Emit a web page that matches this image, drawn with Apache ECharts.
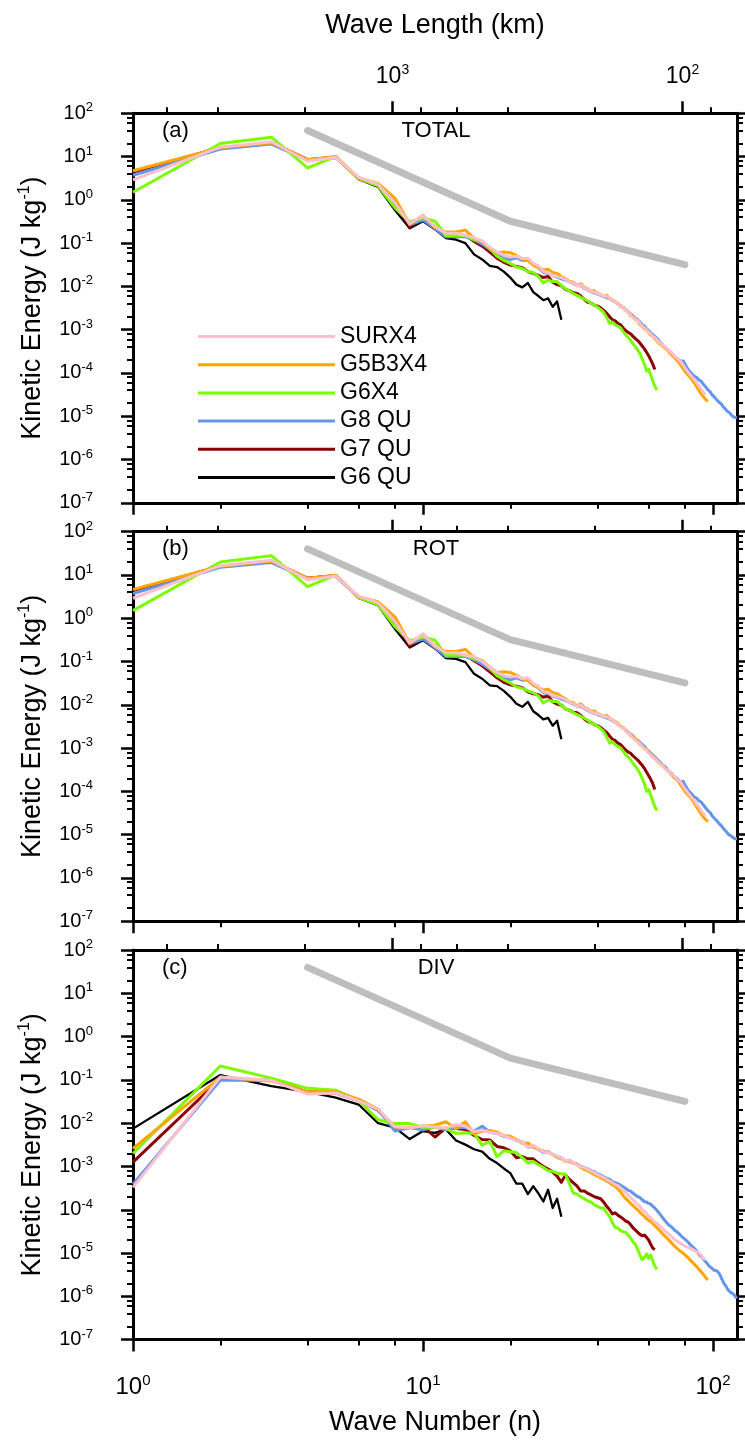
<!DOCTYPE html>
<html>
<head>
<meta charset="utf-8">
<script src="https://cdn.jsdelivr.net/npm/echarts@6/dist/echarts.min.js"></script>
<style>
  html, body { margin: 0; padding: 0; background: #fff; }
  #chart { width: 745px; height: 1443px; }
</style>
</head>
<body>
<div id="chart"></div>
<script>
// ---------------------------------------------------------------------------
// Kinetic energy spectra (TOTAL / ROT / DIV) versus spherical wave number
// ---------------------------------------------------------------------------

const seriesNames  = ['SURX4', 'G5B3X4', 'G6X4', 'G8 QU', 'G7 QU', 'G6 QU'];
const seriesColors = ['#ffc0cb', '#ffa500', '#7cfc00', '#6495ed', '#8b0000', '#000000'];
const panelTags    = ['(a)', '(b)', '(c)'];
const panelTitles  = ['TOTAL', 'ROT', 'DIV'];

// Axis tick positions
const xMajorTicks = [1, 10, 100];
const xMinorTicks = [2, 4, 6, 8, 20, 40, 60, 80];
const yMajorTicks = [1e2, 1e1, 1e0, 1e-1, 1e-2, 1e-3, 1e-4, 1e-5, 1e-6, 1e-7];
const yMinorTicks = [80, 60, 40, 20, 8, 6, 4, 2, 0.8, 0.6, 0.4, 0.2,
  0.08, 0.06, 0.04, 0.02, 8e-3, 6e-3, 4e-3, 2e-3, 8e-4, 6e-4, 4e-4, 2e-4,
  8e-5, 6e-5, 4e-5, 2e-5, 8e-6, 6e-6, 4e-6, 2e-6, 8e-7, 6e-7, 4e-7, 2e-7];
const waveLengthMajor = [1000, 100];                       // km
const waveLengthMinor = [6000, 4000, 2000, 800, 600, 400, 200, 80];
const KM_PER_WAVE = 7850;                                  // wave length (km) = KM_PER_WAVE / n

// Reference slopes (n^-3 then n^-5/3)
const refN = [4, 20, 80];
const refE = [40, 0.32, 0.032];

// ---------------- (a) TOTAL, values for n = 1, 2, 3, ... ----------------
const SURX4_TOTAL = [2.9, 16.5, 22, 7.8, 9.6, 3.3, 2.3, 0.85, 0.28, 0.43,
  0.24, 0.17, 0.17, 0.15, 0.135, 0.11, 0.08, 0.062, 0.052, 0.048,
  0.05, 0.044, 0.045, 0.034, 0.03, 0.022, 0.021, 0.018, 0.017, 0.016,
  0.0145, 0.0125, 0.012, 0.0102, 0.0108, 0.0092, 0.0086, 0.0076, 0.0074, 0.0068,
  0.0064, 0.006, 0.0059, 0.0053, 0.005, 0.0044, 0.0039, 0.0035, 0.0032, 0.0028,
  0.0025, 0.0022, 0.0019, 0.0017, 0.0016, 0.0014, 0.0012, 0.0011, 0.00098, 0.00088,
  0.0008, 0.0007, 0.00066, 0.00058, 0.00052, 0.00048, 0.00044, 0.0004, 0.00039, 0.00034,
  0.00031, 0.00029, 0.00026, 0.00025, 0.00022, 0.00021, 0.00019, 0.00017, 0.00015, 0.00013,
  0.00012, 1.05e-4, 9.7e-5, 8.6e-5, 8.0e-5, 7.1e-5, 6.6e-5, 5.8e-5, 5.3e-5, 4.7e-5,
  4.3e-5, 3.8e-5, 3.4e-5, 3.1e-5];
const G5B3X4_TOTAL = [4.7, 16, 21, 8.5, 10, 3.2, 2.4, 1.1, 0.27, 0.44,
  0.23, 0.18, 0.18, 0.2, 0.13, 0.11, 0.078, 0.06, 0.062, 0.06,
  0.052, 0.043, 0.04, 0.031, 0.027, 0.024, 0.025, 0.021, 0.02, 0.017,
  0.015, 0.013, 0.0125, 0.0105, 0.0115, 0.0095, 0.0088, 0.0078, 0.0079, 0.0068,
  0.0065, 0.0058, 0.0062, 0.0053, 0.0049, 0.0045, 0.004, 0.0034, 0.0033, 0.0028,
  0.0025, 0.0021, 0.002, 0.0017, 0.0016, 0.0013, 0.0012, 0.00105, 0.001, 0.00085,
  0.00075, 0.0007, 0.00062, 0.00058, 0.00049, 0.00046, 0.00042, 0.00038, 0.00036, 0.00032,
  0.0003, 0.00026, 0.00025, 0.00022, 0.0002, 0.00018, 0.00017, 0.00014, 0.00013, 0.00011,
  1.0e-4, 9.0e-5, 8.5e-5, 7.5e-5, 6.8e-5, 6.0e-5, 5.5e-5, 4.7e-5, 4.4e-5, 3.7e-5,
  3.4e-5, 3.0e-5, 2.8e-5, 2.5e-5, 2.4e-5, 2.2e-5];
const G6X4_TOTAL = [1.5, 20, 28, 5.5, 10, 3.1, 2.1, 0.65, 0.31, 0.38,
  0.32, 0.15, 0.15, 0.15, 0.12, 0.11, 0.075, 0.05, 0.04, 0.034,
  0.028, 0.026, 0.022, 0.021, 0.017, 0.012, 0.014, 0.013, 0.013, 0.0105,
  0.0088, 0.0078, 0.0068, 0.0062, 0.0056, 0.0051, 0.0046, 0.004, 0.0037, 0.0033,
  0.0029, 0.0025, 0.0019, 0.0014, 0.0015, 0.0013, 0.0012, 0.0011, 0.0009, 0.00075,
  0.00066, 0.00057, 0.00047, 0.0004, 0.00034, 0.00028, 0.00021, 0.00016, 0.00011, 0.00012,
  9.0e-5, 6.5e-5, 5.0e-5, 4.0e-5];
const G8QU_TOTAL = [3.7, 15, 19.5, 8.3, 9.4, 3.2, 2.2, 0.9, 0.27, 0.34,
  0.22, 0.14, 0.14, 0.14, 0.12, 0.095, 0.072, 0.055, 0.046, 0.042,
  0.046, 0.04, 0.041, 0.032, 0.027, 0.021, 0.02, 0.018, 0.0165, 0.015,
  0.014, 0.0128, 0.0115, 0.0105, 0.0103, 0.009, 0.0083, 0.0075, 0.0071, 0.0066,
  0.0062, 0.0058, 0.0055, 0.0052, 0.0048, 0.0044, 0.0039, 0.0036, 0.0032, 0.0029,
  0.0026, 0.0023, 0.0021, 0.0018, 0.0017, 0.0015, 0.0013, 0.0012, 0.00105, 0.00095,
  0.00085, 0.00077, 0.0007, 0.00063, 0.00056, 0.0005, 0.00046, 0.00041, 0.00039, 0.00034,
  0.00031, 0.00029, 0.00026, 0.00024, 0.00022, 0.0002, 0.00019, 0.00018, 0.00019, 0.00016,
  0.00014, 0.00012, 0.00011, 1.0e-4, 9.5e-5, 8.5e-5, 9.0e-5, 7.8e-5, 7.0e-5, 7.2e-5,
  6.5e-5, 5.8e-5, 5.4e-5, 4.9e-5, 4.6e-5, 4.1e-5, 3.8e-5, 3.6e-5, 3.2e-5, 3.0e-5,
  2.8e-5, 2.6e-5, 2.4e-5, 2.3e-5, 2.1e-5, 2.0e-5, 1.9e-5, 1.7e-5, 1.6e-5, 1.5e-5,
  1.4e-5, 1.3e-5, 1.2e-5, 1.2e-5, 1.1e-5, 1.05e-5, 1.0e-5, 9.5e-6, 9.3e-6, 9.3e-6, 9.2e-6];
const G7QU_TOTAL = [4.4, 16, 21, 8.5, 9.8, 3.1, 2.2, 0.8, 0.24, 0.36,
  0.22, 0.15, 0.14, 0.15, 0.11, 0.085, 0.062, 0.045, 0.036, 0.031,
  0.029, 0.027, 0.022, 0.02, 0.018, 0.016, 0.017, 0.0125, 0.011, 0.0103,
  0.0086, 0.0079, 0.0071, 0.0069, 0.006, 0.005, 0.0043, 0.0041, 0.0037, 0.0035,
  0.0032, 0.0028, 0.0024, 0.002, 0.0017, 0.0016, 0.0014, 0.0013, 0.0011, 0.00095,
  0.00086, 0.0008, 0.0007, 0.00062, 0.00056, 0.00049, 0.00042, 0.00036, 0.0003, 0.00025,
  0.0002, 0.00016, 0.00012];
const G6QU_TOTAL = [4.4, 16, 21, 8.5, 9.8, 3.0, 2.0, 0.58, 0.22, 0.32,
  0.21, 0.13, 0.12, 0.1, 0.055, 0.042, 0.03, 0.028, 0.022, 0.016,
  0.011, 0.0095, 0.012, 0.0074, 0.006, 0.0048, 0.0053, 0.0034, 0.0045, 0.0017];

// ---------------- (b) ROT ----------------
const SURX4_ROT = [2.9, 16.4, 22, 7.7, 9.5, 3.2, 2.3, 0.84, 0.27, 0.42,
  0.23, 0.16, 0.16, 0.14, 0.13, 0.1, 0.074, 0.056, 0.047, 0.044,
  0.046, 0.04, 0.042, 0.031, 0.027, 0.02, 0.019, 0.0165, 0.0155, 0.0145,
  0.0132, 0.0112, 0.0108, 0.0092, 0.0098, 0.0083, 0.0078, 0.0068, 0.0066, 0.0061,
  0.0058, 0.0054, 0.0053, 0.0048, 0.0045, 0.004, 0.0035, 0.0031, 0.0029, 0.0025,
  0.0022, 0.002, 0.0017, 0.0015, 0.0014, 0.00125, 0.0011, 0.00098, 0.00088, 0.00078,
  0.0007, 0.00063, 0.00058, 0.00052, 0.00046, 0.00043, 0.00039, 0.00035, 0.00034, 0.0003,
  0.00027, 0.00025, 0.00023, 0.00022, 0.00019, 0.00018, 0.00017, 0.00015, 0.00013, 1.15e-4,
  1.05e-4, 9.2e-5, 8.5e-5, 7.5e-5, 7.0e-5, 6.2e-5, 5.7e-5, 5.0e-5, 4.6e-5, 4.1e-5,
  3.7e-5, 3.3e-5, 3.0e-5, 2.7e-5];
const G5B3X4_ROT = [4.6, 16, 21, 8.4, 9.9, 3.1, 2.4, 1.08, 0.26, 0.43,
  0.22, 0.17, 0.17, 0.19, 0.125, 0.105, 0.074, 0.056, 0.058, 0.056,
  0.048, 0.04, 0.037, 0.028, 0.025, 0.022, 0.023, 0.019, 0.018, 0.0155,
  0.0137, 0.0117, 0.0113, 0.0094, 0.0105, 0.0086, 0.008, 0.0071, 0.0072, 0.0062,
  0.0059, 0.0053, 0.0057, 0.0049, 0.0045, 0.0041, 0.0037, 0.0031, 0.003, 0.0026,
  0.0023, 0.0019, 0.0019, 0.0016, 0.0015, 0.0012, 0.0011, 0.00098, 0.00094, 0.0008,
  0.0007, 0.00065, 0.00058, 0.00054, 0.00046, 0.00043, 0.00039, 0.00035, 0.00034, 0.0003,
  0.00028, 0.00024, 0.00023, 0.0002, 0.00019, 0.00017, 0.00016, 0.00013, 0.00012, 1.0e-4,
  9.3e-5, 8.3e-5, 7.8e-5, 7.0e-5, 6.2e-5, 5.5e-5, 5.0e-5, 4.3e-5, 4.0e-5, 3.4e-5,
  3.1e-5, 2.7e-5, 2.5e-5, 2.3e-5, 2.2e-5, 2.0e-5];
const G6X4_ROT = [1.5, 20, 28, 5.4, 9.9, 3.0, 2.05, 0.64, 0.3, 0.37,
  0.31, 0.14, 0.14, 0.14, 0.115, 0.104, 0.071, 0.047, 0.038, 0.032,
  0.026, 0.024, 0.021, 0.019, 0.016, 0.011, 0.013, 0.012, 0.012, 0.0097,
  0.0081, 0.0074, 0.0066, 0.0059, 0.0054, 0.0049, 0.0044, 0.0038, 0.0036, 0.0032,
  0.0028, 0.0024, 0.0018, 0.0013, 0.0014, 0.0012, 0.0011, 0.001, 0.00085, 0.0007,
  0.00062, 0.00054, 0.00044, 0.00038, 0.00032, 0.00026, 0.0002, 0.00015, 0.0001, 0.00011,
  8.2e-5, 6.0e-5, 4.5e-5, 3.6e-5];
const G8QU_ROT = [3.7, 15, 19.4, 8.2, 9.3, 3.1, 2.2, 0.89, 0.26, 0.33,
  0.21, 0.13, 0.13, 0.13, 0.11, 0.087, 0.066, 0.05, 0.042, 0.038,
  0.042, 0.037, 0.038, 0.029, 0.025, 0.019, 0.018, 0.016, 0.015, 0.0135,
  0.0127, 0.0114, 0.0103, 0.0094, 0.0093, 0.0081, 0.0074, 0.0067, 0.0064, 0.0059,
  0.0056, 0.0052, 0.005, 0.0047, 0.0043, 0.004, 0.0035, 0.0032, 0.0029, 0.0026,
  0.0023, 0.0021, 0.0019, 0.0016, 0.0015, 0.00135, 0.0012, 0.0011, 0.00094, 0.00085,
  0.00076, 0.00069, 0.00063, 0.00056, 0.0005, 0.00045, 0.00041, 0.00037, 0.00035, 0.0003,
  0.00028, 0.00026, 0.00023, 0.00021, 0.0002, 0.00018, 0.00017, 0.00016, 0.00017, 0.00014,
  1.25e-4, 1.05e-4, 9.7e-5, 9.0e-5, 8.4e-5, 7.5e-5, 8.0e-5, 6.9e-5, 6.2e-5, 6.4e-5,
  5.7e-5, 5.1e-5, 4.8e-5, 4.3e-5, 4.1e-5, 3.6e-5, 3.4e-5, 3.2e-5, 2.8e-5, 2.6e-5,
  2.4e-5, 2.2e-5, 2.1e-5, 2.0e-5, 1.8e-5, 1.7e-5, 1.6e-5, 1.45e-5, 1.35e-5, 1.28e-5,
  1.18e-5, 1.1e-5, 1.02e-5, 1.0e-5, 9.4e-6, 9.0e-6, 8.7e-6, 8.3e-6, 8.0e-6, 8.1e-6, 8.0e-6];
const G7QU_ROT = [4.4, 16, 21, 8.4, 9.7, 3.05, 2.15, 0.79, 0.23, 0.35,
  0.21, 0.14, 0.13, 0.14, 0.105, 0.08, 0.058, 0.042, 0.033, 0.029,
  0.027, 0.025, 0.02, 0.018, 0.017, 0.015, 0.016, 0.0118, 0.0104, 0.0098,
  0.0081, 0.0074, 0.0067, 0.0066, 0.0057, 0.0047, 0.0041, 0.0039, 0.0035, 0.0033,
  0.003, 0.0026, 0.0023, 0.0019, 0.0016, 0.0015, 0.0013, 0.0012, 0.00104, 0.0009,
  0.00081, 0.00076, 0.00066, 0.00059, 0.00053, 0.00046, 0.0004, 0.00034, 0.00028, 0.00023,
  0.00019, 0.00015, 0.00011];
const G6QU_ROT = [4.4, 16, 21, 8.4, 9.7, 2.95, 1.98, 0.57, 0.21, 0.31,
  0.2, 0.12, 0.115, 0.097, 0.052, 0.04, 0.028, 0.027, 0.021, 0.0153,
  0.0106, 0.009, 0.0117, 0.0071, 0.0058, 0.0046, 0.005, 0.0033, 0.0043, 0.0016];

// ---------------- (c) DIV ----------------
const SURX4_DIV = [3.3e-4, 0.117, 0.098, 0.047, 0.05, 0.033, 0.021, 0.0082, 0.0079, 0.0087,
  0.0082, 0.0078, 0.0093, 0.0085, 0.0064, 0.0068, 0.0062, 0.0058, 0.0052, 0.0045,
  0.004, 0.0036, 0.0028, 0.0031, 0.0026, 0.0022, 0.0021, 0.0019, 0.0017, 0.0016,
  0.0013, 0.0014, 0.0012, 0.0011, 0.00098, 0.00093, 0.00087, 0.00078, 0.00072, 0.00065,
  0.0006, 0.00056, 0.0005, 0.00046, 0.00042, 0.00038, 0.00036, 0.00032, 0.00028, 0.00025,
  0.00022, 0.00019, 0.00017, 0.00015, 0.00013, 0.00012, 1.0e-4, 9.2e-5, 8.2e-5, 7.0e-5,
  6.5e-5, 5.8e-5, 5.2e-5, 4.8e-5, 4.4e-5, 4.0e-5, 3.7e-5, 3.3e-5, 3.0e-5, 2.8e-5,
  2.6e-5, 2.4e-5, 2.2e-5, 2.0e-5, 1.9e-5, 1.8e-5, 1.7e-5, 1.6e-5, 1.5e-5, 1.45e-5,
  1.4e-5, 1.35e-5, 1.3e-5, 1.25e-5, 1.2e-5, 1.15e-5, 1.1e-5, 1.05e-5, 1.0e-5, 9.7e-6,
  8.8e-6, 8.0e-6, 7.4e-6, 6.9e-6];
const G5B3X4_DIV = [2.6e-3, 0.115, 0.095, 0.053, 0.053, 0.036, 0.021, 0.0082, 0.0079, 0.0085,
  0.009, 0.0108, 0.0074, 0.0108, 0.0057, 0.0065, 0.0068, 0.0062, 0.0052, 0.005,
  0.0042, 0.0034, 0.0035, 0.0028, 0.0025, 0.0023, 0.0021, 0.0019, 0.0016, 0.0015,
  0.0013, 0.0013, 0.0012, 0.0011, 0.00095, 0.00085, 0.0008, 0.00072, 0.00065, 0.0006,
  0.00055, 0.0005, 0.00046, 0.00042, 0.00037, 0.00035, 0.0003, 0.00026, 0.00021, 0.00018,
  0.00016, 0.00014, 1.25e-4, 1.1e-4, 1.0e-4, 8.8e-5, 7.8e-5, 7.0e-5, 6.2e-5, 5.7e-5,
  5.4e-5, 4.8e-5, 4.3e-5, 3.9e-5, 3.5e-5, 3.2e-5, 2.8e-5, 2.6e-5, 2.3e-5, 2.1e-5,
  1.9e-5, 1.7e-5, 1.6e-5, 1.4e-5, 1.3e-5, 1.2e-5, 1.1e-5, 1.05e-5, 9.7e-6, 9.2e-6,
  8.5e-6, 7.8e-6, 7.2e-6, 6.6e-6, 6.0e-6, 5.6e-6, 5.2e-6, 4.8e-6, 4.4e-6, 4.0e-6,
  3.7e-6, 3.4e-6, 3.1e-6, 2.8e-6, 2.6e-6, 2.4e-6];
const G6X4_DIV = [2.0e-3, 0.21, 0.11, 0.064, 0.058, 0.034, 0.012, 0.0098, 0.0098, 0.008,
  0.0082, 0.0075, 0.0058, 0.006, 0.0058, 0.0031, 0.0038, 0.0017, 0.0023, 0.0022,
  0.0021, 0.0016, 0.0012, 0.0013, 0.0011, 0.00095, 0.0008, 0.00078, 0.0007, 0.00068,
  0.00066, 0.0004, 0.00024, 0.00023, 0.0002, 0.00018, 0.00016, 0.00015, 0.00013, 0.00012,
  0.00011, 0.00011, 8.5e-5, 7.0e-5, 5.0e-5, 3.9e-5, 3.8e-5, 3.3e-5, 3.1e-5, 3.0e-5,
  2.6e-5, 2.2e-5, 1.8e-5, 1.6e-5, 1.2e-5, 9.0e-6, 7.0e-6, 8.0e-6, 9.5e-6, 7.5e-6,
  9.0e-6, 6.5e-6, 5.0e-6, 4.2e-6];
const G8QU_DIV = [3.9e-4, 0.098, 0.098, 0.053, 0.05, 0.033, 0.021, 0.0066, 0.0079, 0.007,
  0.0082, 0.007, 0.0079, 0.0079, 0.0066, 0.0085, 0.0062, 0.0058, 0.005, 0.0046,
  0.004, 0.0037, 0.0028, 0.0029, 0.0025, 0.0021, 0.0022, 0.0019, 0.0017, 0.0016,
  0.0013, 0.0014, 0.0012, 0.00115, 0.001, 0.00094, 0.00088, 0.0008, 0.00075, 0.00068,
  0.00063, 0.00058, 0.00053, 0.0005, 0.00045, 0.00042, 0.0004, 0.00037, 0.00034, 0.00031,
  0.00028, 0.00027, 0.00024, 0.00022, 0.0002, 0.00019, 0.00017, 1.55e-4, 1.5e-4, 1.4e-4,
  1.35e-4, 1.2e-4, 1.1e-4, 9.8e-5, 9.0e-5, 7.5e-5, 6.6e-5, 5.8e-5, 5.2e-5, 4.6e-5,
  4.2e-5, 4.0e-5, 3.6e-5, 3.3e-5, 3.0e-5, 2.9e-5, 2.7e-5, 2.4e-5, 2.3e-5, 2.1e-5,
  2.0e-5, 1.8e-5, 1.7e-5, 1.5e-5, 1.4e-5, 1.3e-5, 1.2e-5, 1.1e-5, 9.8e-6, 8.8e-6,
  8.5e-6, 7.8e-6, 7.0e-6, 6.6e-6, 6.0e-6, 5.5e-6, 5.0e-6, 4.7e-6, 4.5e-6, 4.2e-6,
  4.0e-6, 4.1e-6, 3.9e-6, 4.0e-6, 3.4e-6, 3.0e-6, 2.6e-6, 2.3e-6, 2.0e-6, 1.9e-6,
  1.7e-6, 1.5e-6, 1.4e-6, 1.3e-6, 1.3e-6, 1.2e-6, 1.1e-6, 1.1e-6, 1.0e-6, 9.5e-7, 1.0e-6];
const G7QU_DIV = [1.26e-3, 0.105, 0.098, 0.053, 0.05, 0.033, 0.02, 0.0079, 0.0079, 0.0085,
  0.0048, 0.0078, 0.0075, 0.0072, 0.0052, 0.0042, 0.0041, 0.0029, 0.0027, 0.0023,
  0.0016, 0.0017, 0.0015, 0.0015, 0.0012, 0.001, 0.00087, 0.00075, 0.0006, 0.00043,
  0.00064, 0.0005, 0.00042, 0.00035, 0.00027, 0.00027, 0.00024, 0.00022, 0.0002, 0.00019,
  0.00018, 0.00015, 0.00012, 1.0e-4, 8.0e-5, 8.5e-5, 7.5e-5, 6.8e-5, 6.2e-5, 5.5e-5,
  5.2e-5, 4.5e-5, 3.8e-5, 3.4e-5, 3.0e-5, 2.7e-5, 2.5e-5, 2.6e-5, 2.3e-5, 2.0e-5,
  1.6e-5, 1.3e-5, 1.2e-5];
const G6QU_DIV = [7.5e-3, 0.13, 0.072, 0.053, 0.039, 0.027, 0.01, 0.0079, 0.0043, 0.0066,
  0.006, 0.0072, 0.004, 0.0032, 0.0025, 0.0022, 0.0015, 0.0012, 0.0009, 0.0007,
  0.0004, 0.0004, 0.00023, 0.00035, 0.00024, 0.000155, 0.00029, 0.00011, 0.00018, 6.9e-5];

const panelSeries = [
  [SURX4_TOTAL, G5B3X4_TOTAL, G6X4_TOTAL, G8QU_TOTAL, G7QU_TOTAL, G6QU_TOTAL],
  [SURX4_ROT,   G5B3X4_ROT,   G6X4_ROT,   G8QU_ROT,   G7QU_ROT,   G6QU_ROT],
  [SURX4_DIV,   G5B3X4_DIV,   G6X4_DIV,   G8QU_DIV,   G7QU_DIV,   G6QU_DIV]
];

// ---------------------------------------------------------------------------
// Layout and styling
// ---------------------------------------------------------------------------
const FONT = '"Liberation Sans", Arial, Helvetica, sans-serif';
const X_MIN = 0.99999, X_MAX = 121;
const Y_MIN = 0.99999e-7, Y_MAX = 100.0001;
const GRID_LEFT = 133, GRID_WIDTH = 604, GRID_HEIGHT = 389.5;
const GRID_TOPS = [113.3, 531.7, 950.1];
const lineWidths = [3, 3, 3, 3, 3, 2.3];
const drawOrder = [5, 4, 3, 2, 1, 0];   // pink ends up on top

function powRich(size, supSize) {
  return {
    b: { fontSize: size, lineHeight: size + 4, fontFamily: FONT, color: '#000' },
    s: { fontSize: supSize, lineHeight: supSize, fontFamily: FONT, color: '#000', verticalAlign: 'top' }
  };
}
const yTickRich   = powRich(20, 13);
const xTickRich   = powRich(24, 15);
const topTickRich = powRich(23, 14);
const powLabel = (exp) => '{b|10}{s|' + exp + '}';
const decade = (v) => Math.round(Math.log10(v));

function logAxis(gridIndex, position, range, ticks, tickLen, tickWidth, extra) {
  const e = extra || {};
  const axis = {
    type: 'log', logBase: 10, gridIndex: gridIndex, position: position,
    min: range[0], max: range[1],
    axisLine: { show: !!e.line, onZero: false, lineStyle: { color: '#000', width: 3 } },
    axisTick: { show: true, inside: false, length: tickLen,
                lineStyle: { color: '#000', width: tickWidth }, customValues: ticks },
    axisLabel: { show: false },
    splitLine: { show: false },
    minorTick: { show: false },
    minorSplitLine: { show: false },
    axisPointer: { show: false },
    silent: true
  };
  if (e.labels) {
    axis.axisLabel = {
      show: true, customValues: e.labels, margin: e.margin,
      formatter: e.formatter, rich: e.rich, color: '#000'
    };
  }
  if (e.name) {
    axis.name = e.name;
    axis.nameLocation = 'middle';
    axis.nameGap = e.nameGap;
    axis.nameTextStyle = {
      fontSize: 27, lineHeight: 31, fontFamily: FONT, color: '#000',
      rich: { s: { fontSize: 16, lineHeight: 16, fontFamily: FONT, color: '#000', verticalAlign: 'top' } }
    };
  }
  return axis;
}

const xRange = [X_MIN, X_MAX];
const yRange = [Y_MIN, Y_MAX];
const waveMajorN = waveLengthMajor.map(l => KM_PER_WAVE / l);
const waveMinorN = waveLengthMinor.map(l => KM_PER_WAVE / l);

const grid = [], xAxis = [], yAxis = [], series = [], graphic = [];

GRID_TOPS.forEach((top, i) => {
  grid.push({ left: GRID_LEFT, top: top, width: GRID_WIDTH, height: GRID_HEIGHT });

  // wave-number axis (bottom) and wave-length axis (top)
  xAxis.push(
    logAxis(i, 'bottom', xRange, xMajorTicks, 12, 2.5, i === 2 ? {
      line: true, labels: xMajorTicks, margin: 34, rich: xTickRich,
      formatter: v => powLabel(decade(v)),
      name: 'Wave Number (n)', nameGap: 67
    } : { line: true }),
    logAxis(i, 'bottom', xRange, xMinorTicks, 6, 2),
    logAxis(i, 'top', xRange, waveMajorN, 12, 2.5, i === 0 ? {
      line: true, labels: waveMajorN, margin: 23.5, rich: topTickRich,
      formatter: v => powLabel(decade(KM_PER_WAVE / v)),
      name: 'Wave Length (km)', nameGap: 72
    } : { line: true }),
    logAxis(i, 'top', xRange, waveMinorN, 6, 2)
  );

  yAxis.push(
    logAxis(i, 'left', yRange, yMajorTicks, 12, 2.5, {
      line: true, labels: yMajorTicks, margin: 40, rich: yTickRich,
      formatter: v => powLabel(decade(v)),
      name: 'Kinetic Energy (J kg{s|-1})', nameGap: 85
    }),
    logAxis(i, 'left', yRange, yMinorTicks, 6, 2),
    logAxis(i, 'right', yRange, yMajorTicks, 12, 2.5, { line: true }),
    logAxis(i, 'right', yRange, yMinorTicks, 6, 2)
  );

  // reference slope line
  series.push({
    type: 'line', name: 'slope', xAxisIndex: 4 * i, yAxisIndex: 4 * i,
    data: refN.map((n, j) => [n, refE[j]]),
    symbol: 'none', silent: true,
    lineStyle: { color: '#bebebe', width: 7, cap: 'round', join: 'round' }
  });

  drawOrder.forEach(k => {
    series.push({
      type: 'line', name: seriesNames[k], xAxisIndex: 4 * i, yAxisIndex: 4 * i,
      data: panelSeries[i][k].map((v, j) => [j + 1, v]),
      symbol: 'none', showSymbol: false, silent: true,
      itemStyle: { color: seriesColors[k] },
      lineStyle: { color: seriesColors[k], width: lineWidths[k], join: 'round' }
    });
  });

  graphic.push(
    { type: 'text', x: 162, y: top + 17.7, silent: true,
      style: { text: panelTags[i], fontSize: 22, fontFamily: FONT, fill: '#000',
               verticalAlign: 'middle', textVerticalAlign: 'middle' } },
    { type: 'text', x: 436, y: top + 17.7, silent: true,
      style: { text: panelTitles[i], fontSize: 22, fontFamily: FONT, fill: '#000',
               align: 'center', textAlign: 'center',
               verticalAlign: 'middle', textVerticalAlign: 'middle' } }
  );
});

const chart = echarts.init(document.getElementById('chart'), null, { renderer: 'canvas' });
chart.setOption({
  animation: false,
  backgroundColor: '#fff',
  grid: grid,
  xAxis: xAxis,
  yAxis: yAxis,
  legend: {
    data: seriesNames, orient: 'vertical', left: 198, top: 325,
    icon: 'rect', itemWidth: 137, itemHeight: 3, itemGap: 5.2, padding: 0,
    selectedMode: false,
    textStyle: { fontSize: 23, lineHeight: 23, fontFamily: FONT, color: '#000' }
  },
  graphic: graphic,
  series: series
});
</script>
</body>
</html>
